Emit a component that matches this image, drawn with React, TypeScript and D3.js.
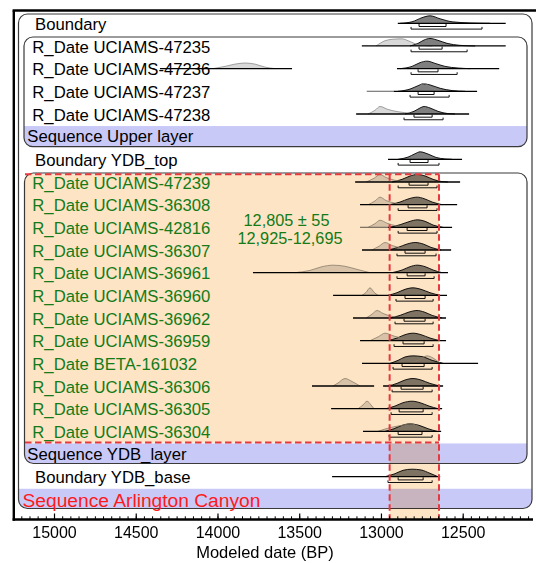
import React from 'react';
import * as d3 from 'd3';

const W = 536;
const H = 563;

// ---------- data ----------
const rowLabels = [
  'Boundary',
  'R_Date UCIAMS-47235',
  'R_Date UCIAMS-47236',
  'R_Date UCIAMS-47237',
  'R_Date UCIAMS-47238',
  'Sequence Upper layer',
  'Boundary YDB_top',
  'R_Date UCIAMS-47239',
  'R_Date UCIAMS-36308',
  'R_Date UCIAMS-42816',
  'R_Date UCIAMS-36307',
  'R_Date UCIAMS-36961',
  'R_Date UCIAMS-36960',
  'R_Date UCIAMS-36962',
  'R_Date UCIAMS-36959',
  'R_Date BETA-161032',
  'R_Date UCIAMS-36306',
  'R_Date UCIAMS-36305',
  'R_Date UCIAMS-36304',
  'Sequence YDB_layer',
  'Boundary YDB_base',
  'Sequence Arlington Canyon',
];
// b = boundary, d = date, y = YDB date (green), s = sequence, S = main sequence
const rowKinds = ['b', 'd', 'd', 'd', 'd', 's', 'b', 'y', 'y', 'y', 'y', 'y', 'y', 'y', 'y', 'y', 'y', 'y', 'y', 's', 'b', 'S'];

type Seg = [number, number];
const rowLines: (Seg[] | null)[] = [
  [[12900, 12240]],
  [[13120, 12240]],
  [[14355, 13547], [12905, 12280]],
  [[12925, 12415]],
  [[13155, 12464]],
  null,
  [[12960, 12507]],
  [[13161, 12519]],
  [[13131, 12537]],
  [[12960, 12568]],
  [[13119, 12574]],
  [[13786, 12593]],
  [[13296, 12599]],
  [[13174, 12605]],
  [[13131, 12605]],
  [[13119, 12409]],
  [[13425, 13045], [12990, 12623]],
  [[13308, 12629]],
  [[13113, 12635]],
  null,
  [[13302, 12641]],
  null,
];
const priorLines: (Seg[] | null)[] = rowLabels.map(() => null);
priorLines[3] = [[13090, 12925]];
priorLines[9] = [[13131, 12960]];

const range68: (Seg | null)[] = [
  [12770, 12605], [12770, 12629], [12776, 12654], [12776, 12678], [12801, 12690], null,
  [12825, 12715], [12831, 12715], [12837, 12721], [12843, 12721], [12856, 12733], [12843, 12733],
  [12856, 12733], [12862, 12733], [12868, 12739], [12874, 12739], [12880, 12745], [12892, 12745],
  [12898, 12752], null, [12898, 12745], null,
];
const range95: (Seg | null)[] = [
  [12819, 12385], [12819, 12476], [12819, 12537], [12825, 12586], [12862, 12623], null,
  [12898, 12648], [12898, 12660], [12898, 12660], [12898, 12660], [12905, 12666], [12905, 12678],
  [12911, 12684], [12917, 12684], [12923, 12684], [12929, 12690], [12935, 12690], [12941, 12690],
  [12953, 12690], null, [12960, 12690], null,
];

type K = [number, number][];
const darkDists: (K | null)[] = [
  [[12886, 0], [12813, 0.2], [12752, 0.75], [12703, 1], [12641, 0.6], [12568, 0.2], [12458, 0.05], [12336, 0]],
  [[12825, 0], [12776, 0.35], [12739, 0.8], [12703, 1], [12654, 0.75], [12599, 0.35], [12519, 0.08], [12427, 0]],
  [[12886, 0], [12813, 0.3], [12764, 0.8], [12721, 1], [12672, 0.7], [12611, 0.3], [12531, 0.08], [12458, 0]],
  [[12898, 0], [12825, 0.3], [12776, 0.75], [12745, 1], [12703, 0.85], [12641, 0.4], [12568, 0.1], [12489, 0]],
  [[12856, 0], [12801, 0.35], [12764, 0.8], [12739, 1], [12703, 0.8], [12654, 0.35], [12593, 0.05], [12550, 0]],
  null,
  [[12898, 0], [12837, 0.3], [12794, 0.75], [12764, 1], [12715, 0.7], [12666, 0.25], [12611, 0.05], [12568, 0]],
  [[12935, 0], [12874, 0.35], [12825, 0.8], [12782, 1], [12733, 0.8], [12684, 0.35], [12629, 0.05], [12593, 0]],
  [[12947, 0], [12886, 0.35], [12831, 0.8], [12782, 1], [12739, 0.8], [12690, 0.35], [12629, 0]],
  [[12947, 0], [12886, 0.35], [12825, 0.8], [12782, 1], [12733, 0.8], [12684, 0.3], [12623, 0]],
  [[12960, 0], [12898, 0.35], [12843, 0.8], [12794, 1], [12745, 0.8], [12697, 0.35], [12635, 0]],
  [[12935, 0], [12874, 0.35], [12825, 0.8], [12782, 1], [12733, 0.8], [12684, 0.35], [12629, 0]],
  [[12960, 0], [12905, 0.35], [12856, 0.8], [12807, 1], [12758, 0.8], [12703, 0.35], [12641, 0]],
  [[12947, 0], [12886, 0.35], [12831, 0.8], [12782, 1], [12739, 0.8], [12690, 0.35], [12629, 0]],
  [[12960, 0], [12905, 0.35], [12856, 0.8], [12807, 1], [12758, 0.8], [12703, 0.35], [12641, 0]],
  [[12947, 0], [12898, 0.4], [12856, 0.85], [12807, 1], [12752, 0.9], [12690, 0.4], [12623, 0]],
  [[12960, 0], [12905, 0.35], [12856, 0.8], [12807, 1], [12758, 0.8], [12703, 0.35], [12641, 0]],
  [[12972, 0], [12917, 0.35], [12868, 0.8], [12813, 1], [12764, 0.8], [12709, 0.35], [12654, 0]],
  [[12978, 0], [12923, 0.35], [12874, 0.8], [12825, 1], [12770, 0.8], [12715, 0.35], [12660, 0]],
  null,
  [[12978, 0], [12917, 0.4], [12868, 0.85], [12813, 1], [12758, 0.9], [12703, 0.45], [12654, 0]],
  null,
];
const lightDists: (K | null)[] = [
  null,
  [[13033, 0], [12978, 0.7], [12929, 0.9], [12874, 0.95], [12837, 0.7], [12794, 0.3], [12733, 0.05], [12690, 0]],
  [[14030, 0], [13957, 0.3], [13896, 0.6], [13834, 0.75], [13773, 0.6], [13712, 0.2], [13651, 0]],
  [[12837, 0], [12776, 0.5], [12739, 1.05], [12684, 0.3], [12641, 0]],
  [[13082, 0], [13039, 0.5], [13009, 1], [12960, 0.6], [12898, 0.3], [12825, 0.1], [12764, 0]],
  null,
  null,
  [[13094, 0], [13045, 0.5], [13009, 1], [12972, 0.6], [12923, 0.25], [12856, 0.05], [12813, 0]],
  [[13082, 0], [13039, 0.5], [13009, 1], [12972, 0.55], [12917, 0.2], [12837, 0]],
  [[13082, 0], [13039, 0.5], [13009, 0.95], [12966, 0.55], [12911, 0.2], [12837, 0]],
  [[13058, 0], [13015, 0.5], [12978, 1], [12935, 0.6], [12886, 0.3], [12825, 0]],
  [[13529, 0], [13437, 0.3], [13363, 0.8], [13296, 1], [13223, 0.85], [13143, 0.4], [13070, 0]],
  [[13119, 0], [13094, 0.4], [13070, 1], [13045, 0.4], [13021, 0]],
  [[13094, 0], [13058, 0.5], [13027, 1], [12990, 0.6], [12941, 0.25], [12886, 0]],
  [[13070, 0], [13021, 0.5], [12978, 1], [12929, 0.65], [12874, 0.3], [12813, 0]],
  [[12825, 0], [12776, 0.4], [12721, 1], [12684, 0.7], [12641, 0]],
  [[13296, 0], [13266, 0.4], [13223, 1], [13180, 0.6], [13131, 0]],
  [[13143, 0], [13113, 0.5], [13088, 1], [13064, 0.5], [13045, 0]],
  [[13021, 0], [12947, 0.5], [12874, 0.8], [12825, 1], [12776, 0.7], [12727, 0]],
  null,
  null,
  null,
];

const ydbInterval: Seg = [12950, 12648];
const ydbTextLines = ['12,805 ± 55', '12,925-12,695'];
const majorTicks = [15000, 14500, 14000, 13500, 13000, 12500];
const axisTitle = 'Modeled date (BP)';

// ---------- component ----------
export default function App() {
  const font = "'Liberation Sans', Arial, Helvetica, sans-serif";
  const x = d3.scaleLinear().domain([15000, 12500]).range([54.5, 463.2]);
  const yRow = (i: number) => 23.3 + i * 22.67;
  const DH = 7.5;
  const green = '#138a1e';
  const frameLeft = 13.8;
  const frameTop = 10.5;
  const axisY = 519.5;
  const axisRight = 533;

  const area = (k: K, y0: number) =>
    d3.area<[number, number]>()
      .x(d => x(d[0]))
      .y0(y0)
      .y1(d => y0 - d[1] * DH)
      .curve(d3.curveMonotoneX)(k) || '';
  const top = (k: K, y0: number) =>
    d3.line<[number, number]>()
      .x(d => x(d[0]))
      .y(d => y0 - d[1] * DH)
      .curve(d3.curveMonotoneX)(k) || '';

  const boxes = [
    { id: 'outer', x0: 18.5, x1: 532, y0: 14, y1: 508.5, band: 21 },
    { id: 'upper', x0: 24, x1: 527, y0: 37, y1: 146.7, band: 5 },
    { id: 'ydb', x0: 24.5, x1: 527, y0: 173, y1: 463.5, band: 19 },
  ];
  const R = 9;

  const minorTicks = d3.range(12100, 15251, 50).filter(v => x(v) > frameLeft + 1 && x(v) < axisRight);

  const bracket = (r: Seg, yb: number, h: number) =>
    `M${x(r[0])},${yb - h}V${yb}H${x(r[1])}V${yb - h}`;

  const oxL = x(ydbInterval[0]);
  const oxR = x(ydbInterval[1]);
  const oTop = 174.3;
  const oBot = 442.6;

  return (
    <svg width={W} height={H} style={{ position: 'absolute', left: 0, top: 0 }} fontFamily={font}>
      <defs>
        {boxes.map(b => (
          <clipPath id={`clip-${b.id}`} key={b.id}>
            <rect x={b.x0} y={b.y0} width={b.x1 - b.x0} height={b.y1 - b.y0} rx={R} ry={R} />
          </clipPath>
        ))}
      </defs>
      <rect x={0} y={0} width={W} height={H} fill="#fff" />

      {/* blue sequence bands */}
      {boxes.map(b => (
        <rect key={'band' + b.id} clipPath={`url(#clip-${b.id})`} x={b.x0} y={yRow(b.band) - 10.6}
          width={b.x1 - b.x0} height={b.y1 - (yRow(b.band) - 10.6)} fill="#c9c9f7" />
      ))}
      {/* box outlines */}
      {boxes.map(b => (
        <rect key={'box' + b.id} x={b.x0} y={b.y0} width={b.x1 - b.x0} height={b.y1 - b.y0} rx={R} ry={R}
          fill="none" stroke="#3a3a3a" strokeWidth={1.2} />
      ))}

      {/* rows */}
      {rowLabels.map((lab, i) => {
        const y0 = yRow(i);
        const kind = rowKinds[i];
        const ld = lightDists[i];
        const dd = darkDists[i];
        const r68 = range68[i];
        const r95 = range95[i];
        const lines = rowLines[i];
        const pl = priorLines[i];
        let tx = 32.3, ty = y0 + 6.7, fs = 16.7, fill = '#000';
        if (kind === 'b') tx = 35;
        if (kind === 'y') fill = green;
        if (kind === 's') { tx = 27.3; ty = y0 + 5.6; }
        if (kind === 'S') { tx = 22.5; ty = y0 + 7.3; fs = 19.2; fill = '#ff1a1a'; }
        return (
          <g key={i}>
            {ld && <path d={area(ld, y0)} fill="#d9d9d9" />}
            {dd && <path d={area(dd, y0)} fill="#7f7f7f" />}
            {dd && <path d={top(dd, y0)} fill="none" stroke="#000" strokeWidth={0.9} />}
            {ld && <path d={top(ld, y0)} fill="none" stroke="#8a8a8a" strokeWidth={0.8} />}
            {pl && pl.map((s, j) => (
              <line key={'p' + j} x1={x(s[0])} x2={x(s[1])} y1={y0} y2={y0} stroke="#777" strokeWidth={1.2} />
            ))}
            {lines && lines.map((s, j) => (
              <line key={'l' + j} x1={x(s[0])} x2={x(s[1])} y1={y0} y2={y0} stroke="#000" strokeWidth={1.3} />
            ))}
            {r68 && <path d={bracket(r68, y0 + 3.2, 2.6)} fill="none" stroke="#111" strokeWidth={1} />}
            {r95 && <path d={bracket(r95, y0 + 5.8, 2.2)} fill="none" stroke="#111" strokeWidth={1} />}
            <text x={tx} y={ty} fontSize={fs} fill={fill}>{lab}</text>
          </g>
        );
      })}

      {/* YDB summary text */}
      <text x={286.5} y={225.5} fontSize={16.3} fill={green} textAnchor="middle">{ydbTextLines[0]}</text>
      <text x={290} y={244} fontSize={16.3} fill={green} textAnchor="middle">{ydbTextLines[1]}</text>

      {/* orange YDB overlay (multiply) */}
      <g style={{ mixBlendMode: 'multiply' }}>
        <rect clipPath="url(#clip-ydb)" x={24.5} y={oTop} width={oxR - 24.5} height={oBot - oTop} fill="#fde4c4" />
        <rect x={oxL} y={oBot} width={oxR - oxL} height={axisY - oBot} fill="#fde4c4" />
      </g>

      {/* red dashed outlines */}
      <g stroke="#e8383f" strokeWidth={2} strokeDasharray="6.5 3.5" fill="none">
        <line x1={25} x2={oxR} y1={oTop} y2={oTop} />
        <line x1={25} x2={oxR} y1={oBot} y2={oBot} />
        <line x1={oxL} x2={oxL} y1={oTop} y2={axisY} />
        <line x1={oxR} x2={oxR} y1={oTop} y2={axisY} />
      </g>

      {/* frame */}
      <line x1={frameLeft - 1.2} x2={W} y1={frameTop} y2={frameTop} stroke="#000" strokeWidth={2.4} />
      <line x1={frameLeft} x2={frameLeft} y1={frameTop} y2={axisY + 1.2} stroke="#000" strokeWidth={2.4} />
      <line x1={frameLeft - 1.2} x2={axisRight} y1={axisY} y2={axisY} stroke="#000" strokeWidth={2.3} />

      {/* ticks */}
      {minorTicks.map(v => (
        <line key={'m' + v} x1={x(v)} x2={x(v)} y1={axisY} y2={axisY - 3.2} stroke="#000" strokeWidth={1} />
      ))}
      {majorTicks.map(v => (
        <g key={'M' + v}>
          <line x1={x(v)} x2={x(v)} y1={axisY} y2={axisY - 6} stroke="#000" strokeWidth={1.2} />
          <text x={x(v)} y={538} fontSize={16} textAnchor="middle" fill="#000">{v}</text>
        </g>
      ))}
      <text x={265} y={558} fontSize={16.5} textAnchor="middle" fill="#000">{axisTitle}</text>
    </svg>
  );
}
